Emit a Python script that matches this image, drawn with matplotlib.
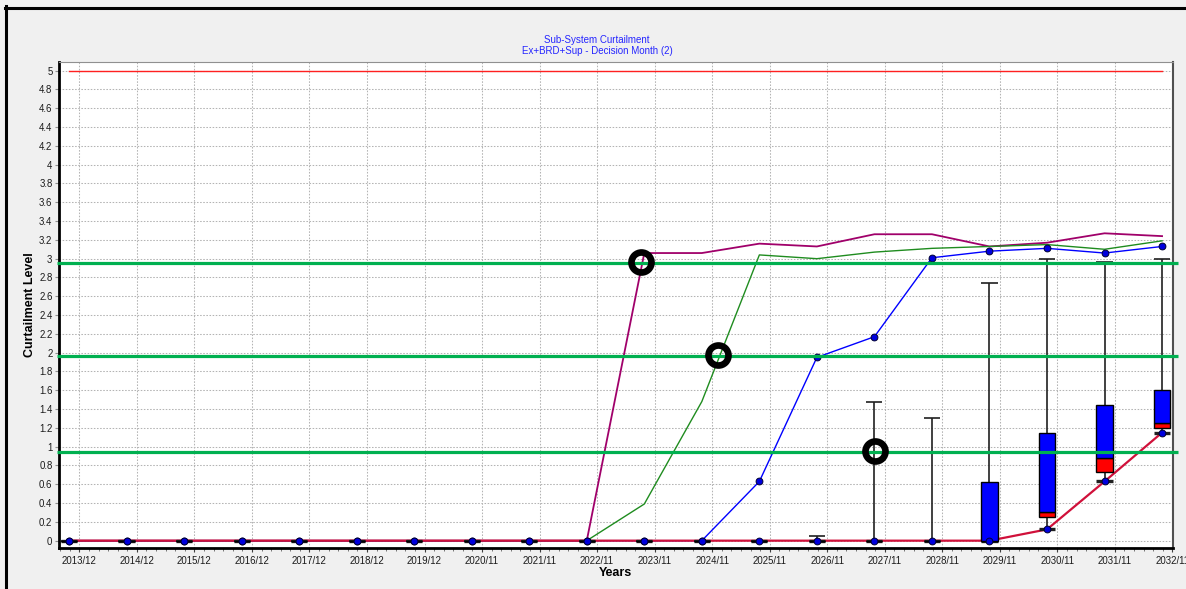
import numpy as np
import matplotlib
matplotlib.use("Agg")
import matplotlib.pyplot as plt
from matplotlib.lines import Line2D
from matplotlib.ticker import FixedLocator

plt.rcParams["font.family"] = ["Liberation Sans", "DejaVu Sans"]

# ---- data -------------------------------------------------------------
years = ["2013/12", "2014/12", "2015/12", "2016/12", "2017/12", "2018/12",
         "2019/12", "2020/11", "2021/11", "2022/11", "2023/11", "2024/11",
         "2025/11", "2026/11", "2027/11", "2028/11", "2029/11", "2030/11",
         "2031/11", "2032/11"]

max_level = [5, 5, 5, 5, 5, 5, 5, 5, 5, 5, 5, 5, 5, 5, 5, 5, 5, 5, 5, 5]

case_a = [0, 0, 0, 0, 0, 0, 0, 0, 0, 0,
          3.06, 3.06, 3.16, 3.13, 3.26, 3.26, 3.13, 3.17, 3.27, 3.24]
case_b = [0, 0, 0, 0, 0, 0, 0, 0, 0, 0,
          0.39, 1.48, 3.04, 3.00, 3.07, 3.11, 3.13, 3.15, 3.10, 3.19]
case_c = [0, 0, 0, 0, 0, 0, 0, 0, 0, 0, 0, 0,
          0.63, 1.95, 2.17, 3.01, 3.08, 3.11, 3.06, 3.13]

# box-and-whisker statistics per year
whisker_low = [0, 0, 0, 0, 0, 0, 0, 0, 0, 0, 0, 0, 0, 0, 0, 0, 0,
               0.12, 0.63, 1.15]
quartile_1 = [0, 0, 0, 0, 0, 0, 0, 0, 0, 0, 0, 0, 0, 0, 0, 0, 0,
              0.25, 0.73, 1.20]
median = [0, 0, 0, 0, 0, 0, 0, 0, 0, 0, 0, 0, 0, 0, 0, 0, 0,
          0.31, 0.88, 1.25]
quartile_3 = [0, 0, 0, 0, 0, 0, 0, 0, 0, 0, 0, 0, 0, 0, 0, 0, 0.62,
              1.15, 1.44, 1.60]
whisker_high = [0, 0, 0, 0, 0, 0, 0, 0, 0, 0, 0, 0, 0, 0.05, 1.47, 1.30,
                2.74, 3.00, 2.97, 3.00]

# decision thresholds and highlighted crossings
thresholds = [2.95, 1.965, 0.947]
ring_x = [9.94, 11.28, 14.01]
ring_y = [2.96, 1.97, 0.95]

y_ticks = [0, 0.2, 0.4, 0.6, 0.8, 1, 1.2, 1.4, 1.6, 1.8, 2, 2.2, 2.4, 2.6,
           2.8, 3, 3.2, 3.4, 3.6, 3.8, 4, 4.2, 4.4, 4.6, 4.8, 5]

# ---- figure -----------------------------------------------------------
W, H = 1186, 589
fig = plt.figure(figsize=(W / 100, H / 100), dpi=100, facecolor="#f0f0f0")
ax = fig.add_axes([58.7 / W, 1 - 548 / H, (1173 - 58.7) / W, (548 - 62) / H])
ax.set_facecolor("white")

x = np.arange(len(years))
tick_shift = 0.18

ax.set_xlim(-0.179, 19.19)
ax.set_ylim(-0.078, 5.0925)

ax.set_xticks(x + tick_shift, years)
ax.xaxis.set_minor_locator(FixedLocator(
    np.arange(-1 + tick_shift, len(years) + 0.01, 1 / 6)))
ax.set_yticks(y_ticks, [f"{v:g}" for v in y_ticks])

ax.grid(True, which="major", ls=(0, (1.5, 1.5)), color="#b4b4b4", lw=0.75)
ax.set_axisbelow(True)

ax.tick_params(axis="x", which="major", length=3, color="#404040",
               labelsize=6.9, pad=3, labelcolor="#1a1a1a")
ax.tick_params(axis="x", which="minor", length=2.5, color="#606060")
ax.tick_params(axis="y", length=3, color="#909090", labelsize=6.9, pad=1.5,
               labelcolor="#1a1a1a")

for side in ("left", "bottom"):
    ax.spines[side].set_color("black")
    ax.spines[side].set_linewidth(2)
ax.spines["top"].set_color("#909090")
ax.spines["top"].set_linewidth(0.8)
ax.spines["right"].set_color("#505050")
ax.spines["right"].set_linewidth(1.5)

# series lines
ax.plot(x, max_level, color="#ff2020", lw=1.0, zorder=3)
ax.plot(x, case_a, color="#a0006a", lw=1.3, zorder=3)
ax.plot(x, case_b, color="#1f8c1f", lw=1.0, zorder=3)
ax.plot(x, case_c, color="#0000ff", lw=1.0, zorder=3)
ax.plot(x, whisker_low, color="#d0103a", lw=1.6, zorder=4)

# box plots
box_w = 0.28
ax.vlines(x, whisker_low, whisker_high, color="#202020", lw=1.2, zorder=5)
ax.hlines(whisker_high, x - box_w / 2, x + box_w / 2, color="#202020",
          lw=1.2, zorder=5)
ax.hlines(whisker_low, x - box_w / 2, x + box_w / 2, color="#202020",
          lw=2.4, zorder=5)
ax.bar(x, np.subtract(median, quartile_1), bottom=quartile_1, width=box_w,
       color="#ff0000", edgecolor="black", lw=1.0, zorder=6)
ax.bar(x, np.subtract(quartile_3, median), bottom=median, width=box_w,
       color="#0000ff", edgecolor="black", lw=1.0, zorder=6)

# point markers
ax.plot(x, whisker_low, "o", ms=4.9, mfc="#0000dd", mec="#000033",
        mew=0.7, zorder=7)
ax.plot(x, case_c, "o", ms=4.9, mfc="#0000dd", mec="#000033",
        mew=0.7, zorder=7)

# threshold lines and rings
ax.hlines(thresholds, -0.21, 19.28, color="#00b050", lw=2.3, zorder=8,
          clip_on=False)
ax.plot(ring_x, ring_y, "o", ms=14.4, mfc="none", mec="black", mew=4.8,
        zorder=9, clip_on=False)

# titles and axis labels
fig.text(597 / W, 1 - 40 / H, "Sub-System Curtailment", color="#2626ff",
         fontsize=7, ha="center", va="center")
fig.text(597 / W, 1 - 51 / H, "Ex+BRD+Sup - Decision Month (2)",
         color="#2626ff", fontsize=7, ha="center", va="center")
fig.text(30 / W, 1 - 305 / H, "Curtailment Level", rotation=90, ha="center",
         va="center", fontsize=9, fontweight="bold")
fig.text(615 / W, 1 - 573 / H, "Years", ha="center", va="center",
         fontsize=9, fontweight="bold")

# window frame
fig.add_artist(Line2D([6 / W, 6 / W], [0, 1 - 6 / H], color="black",
                      lw=2.2, transform=fig.transFigure))
fig.add_artist(Line2D([5 / W, 1], [1 - 8 / H, 1 - 8 / H], color="black",
                      lw=2.2, transform=fig.transFigure))

fig.savefig("out.png", dpi=100, facecolor=fig.get_facecolor())
